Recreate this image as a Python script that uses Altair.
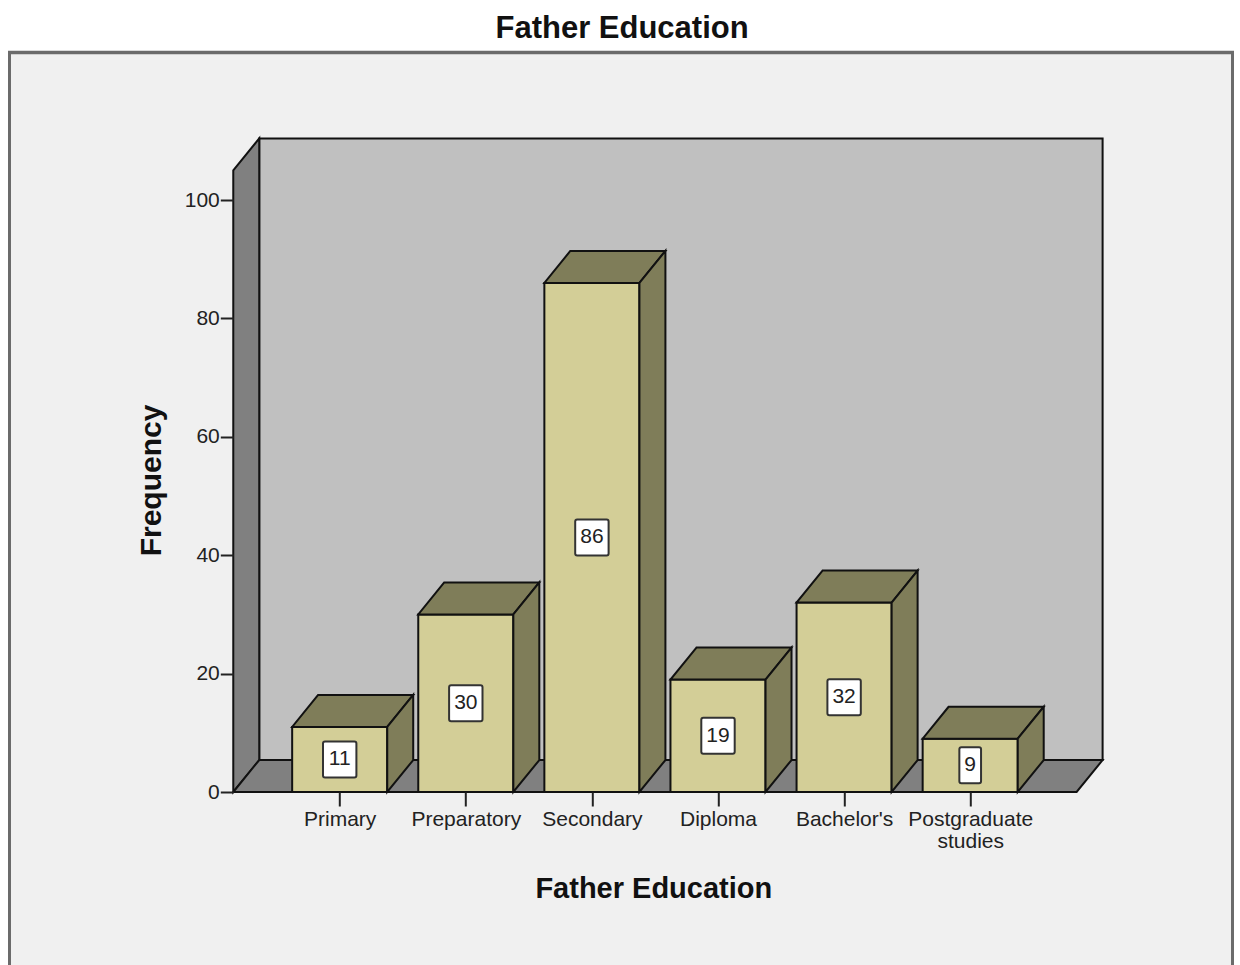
import json
import altair as alt
import pandas as pd

# ---- data -------------------------------------------------------------
categories = ["Primary", "Preparatory", "Secondary", "Diploma", "Bachelor's", "Postgraduate studies"]
frequencies = [11, 30, 86, 19, 32, 9]
x_tick_labels = [["Primary"], ["Preparatory"], ["Secondary"], ["Diploma"], ["Bachelor's"], ["Postgraduate", "studies"]]
y_ticks = [0, 20, 40, 60, 80, 100]

# ---- 3-D box geometry (in data units) ---------------------------------
WALL_TOP = 105          # front top edge of the side wall, in frequency units
DEPTH_X = 0.206         # receding depth, in category steps
DEPTH_Y = 5.4           # receding depth, in frequency units
HALF = 0.377            # half bar width, in category steps
FLOOR_L, FLOOR_R = -0.844, 5.844
PX_X = 1 / 126.1        # category steps per pixel
PX_Y = 1 / 5.92         # frequency units per pixel

# ---- style ------------------------------------------------------------
FRONT = "#d3ce97"
SHADE = "#7f7d59"
WALL = "#808080"
BACK = "#c0c0c0"
BG = "#f0f0f0"
EDGE = "#111111"
INK = "#222222"
FRAME = "#6b6b6b"
FONT = "Liberation Sans"

# plot area: left edge on the y axis, bottom edge on the x axis
W, H = 1000.7, 741
FRAME_L, FRAME_R, FRAME_T, FRAME_B = -225.3, 1000.7, 0, 914

xs = alt.Scale(domain=[-1, 6], range=[-19.7, 863], nice=False, zero=False)
ys = alt.Scale(domain=[0, 100], range=[741, 149], nice=False, zero=False)

idx = list(range(len(categories)))
one = pd.DataFrame({"k": [0]})

# grey panel behind everything
panel = alt.Chart(one).mark_rect(fill=BG).encode(
    x=alt.value(FRAME_L), x2=alt.value(FRAME_R), y=alt.value(FRAME_T), y2=alt.value(FRAME_B))

# back wall
back_df = pd.DataFrame({"x": [FLOOR_L + DEPTH_X], "x2": [FLOOR_R + DEPTH_X],
                        "y": [DEPTH_Y], "y2": [WALL_TOP + DEPTH_Y]})
back = alt.Chart(back_df).mark_rect(fill=BACK, stroke=EDGE, strokeWidth=2).encode(
    x=alt.X("x:Q", scale=xs, axis=None), x2="x2:Q",
    y=alt.Y("y:Q", scale=ys, axis=None), y2="y2:Q")

# left side wall
wall_df = pd.DataFrame({"x": [FLOOR_L, FLOOR_L + DEPTH_X],
                        "top": [WALL_TOP, WALL_TOP + DEPTH_Y],
                        "bot": [0, DEPTH_Y]})
wall = alt.Chart(wall_df).mark_area(fill=WALL, stroke=EDGE, strokeWidth=2).encode(
    x=alt.X("x:Q", scale=xs, axis=None),
    y=alt.Y("top:Q", scale=ys, axis=None, stack=None), y2="bot:Q")

# floor
floor_df = pd.DataFrame({"y": [0, DEPTH_Y],
                         "xl": [FLOOR_L, FLOOR_L + DEPTH_X],
                         "xr": [FLOOR_R, FLOOR_R + DEPTH_X]})
floor = alt.Chart(floor_df).mark_area(orient="horizontal", fill=WALL, stroke=EDGE, strokeWidth=2).encode(
    y=alt.Y("y:Q", scale=ys, axis=None),
    x=alt.X("xl:Q", scale=xs, axis=None, stack=None), x2="xr:Q")

# bar fronts
bars_df = pd.DataFrame({"cat": categories, "i": idx, "v": frequencies})
bars_df["xl"] = bars_df["i"] - HALF
bars_df["xr"] = bars_df["i"] + HALF
bars_df["zero"] = 0

# top and side faces of each bar
top_rows, side_rows = [], []
for c, i, v in zip(categories, idx, frequencies):
    for t in (0, 1):
        top_rows.append({"cat": c, "y": v + t * DEPTH_Y,
                         "xl": i - HALF + t * DEPTH_X, "xr": i + HALF + t * DEPTH_X})
        side_rows.append({"cat": c, "x": i + HALF + t * DEPTH_X,
                          "top": v + t * DEPTH_Y, "bot": t * DEPTH_Y})
top_df = pd.DataFrame(top_rows)
side_df = pd.DataFrame(side_rows)

tops = alt.Chart(top_df).mark_area(orient="horizontal", fill=SHADE, stroke=EDGE, strokeWidth=2).encode(
    y=alt.Y("y:Q", scale=ys, axis=None),
    x=alt.X("xl:Q", scale=xs, axis=None, stack=None), x2="xr:Q",
    detail="cat:N")

sides = alt.Chart(side_df).mark_area(fill=SHADE, stroke=EDGE, strokeWidth=2).encode(
    x=alt.X("x:Q", scale=xs, axis=None),
    y=alt.Y("top:Q", scale=ys, axis=None, stack=None), y2="bot:Q",
    detail="cat:N")

label_expr = json.dumps(x_tick_labels) + "[round(datum.value)]"

fronts = alt.Chart(bars_df).mark_rect(fill=FRONT, stroke=EDGE, strokeWidth=2).encode(
    x=alt.X("xl:Q", scale=xs,
            axis=alt.Axis(values=idx, labelExpr=label_expr, domain=False, grid=False,
                          tickSize=14, tickWidth=2, tickColor=INK, zindex=2,
                          labelFont=FONT, labelFontSize=21, labelColor=INK,
                          labelPadding=2, labelLineHeight=22, labelBaseline="top",
                          labelFlush=False, labelOverlap=False,
                          title="Father Education", titleFont=FONT, titleFontSize=29,
                          titleFontWeight="bold", titleColor=EDGE,
                          titleX=420, titleY=96, titleAlign="center", titleBaseline="middle")),
    x2="xr:Q",
    y=alt.Y("zero:Q", scale=ys,
            axis=alt.Axis(values=y_ticks, domain=False, grid=False,
                          tickSize=13, tickWidth=2, tickColor=INK, zindex=2,
                          labelFont=FONT, labelFontSize=21, labelColor=INK,
                          labelPadding=1,
                          title="Frequency", titleFont=FONT, titleFontSize=30,
                          titleFontWeight="bold", titleColor=EDGE, titleAngle=270,
                          titleX=-82, titleY=429, titleAlign="center", titleBaseline="middle")),
    y2="v:Q")

# value labels in white boxes
box_df = bars_df[["i", "v"]].copy()
box_df["mid"] = box_df["v"] / 2
box_df["hw"] = (box_df["v"].astype(str).str.len() * 11.7 + 10) / 2 * PX_X
box_df["hh"] = 18 * PX_Y
box_df["bx1"] = box_df["i"] - box_df["hw"]
box_df["bx2"] = box_df["i"] + box_df["hw"]
box_df["by1"] = box_df["mid"] - box_df["hh"]
box_df["by2"] = box_df["mid"] + box_df["hh"]

boxes = alt.Chart(box_df).mark_rect(fill="white", stroke="#333333", strokeWidth=2, cornerRadius=2).encode(
    x=alt.X("bx1:Q", scale=xs, axis=None), x2="bx2:Q",
    y=alt.Y("by1:Q", scale=ys, axis=None), y2="by2:Q")

values = alt.Chart(box_df).mark_text(font=FONT, fontSize=21, color=INK, baseline="middle", align="center").encode(
    x=alt.X("i:Q", scale=xs, axis=None),
    y=alt.Y("mid:Q", scale=ys, axis=None),
    text="v:Q")

# outer frame (left, top, right edges)
frame_l = alt.Chart(one).mark_rule(color=FRAME, strokeWidth=3).encode(
    x=alt.value(FRAME_L + 1.5), y=alt.value(FRAME_T), y2=alt.value(FRAME_B))
frame_t = alt.Chart(one).mark_rule(color=FRAME, strokeWidth=3.5).encode(
    x=alt.value(FRAME_L), x2=alt.value(FRAME_R), y=alt.value(FRAME_T + 1.5))
frame_r = alt.Chart(one).mark_rule(color=FRAME, strokeWidth=3).encode(
    x=alt.value(FRAME_R - 1.5), y=alt.value(FRAME_T), y2=alt.value(FRAME_B))

chart = alt.layer(
    panel, back, wall, floor, fronts, tops, sides, boxes, values, frame_l, frame_t, frame_r
).resolve_axis(
    x="independent", y="independent"
).properties(
    width=W, height=H,
    padding={"left": 233.3, "top": 51, "right": 6, "bottom": 173},
    autosize=alt.AutoSizeParams(type="none"),
    background="white",
    title=alt.TitleParams("Father Education", font=FONT, fontSize=31, fontWeight="bold",
                          color=EDGE, anchor="middle", offset=5, dx=-111.6),
).configure_view(stroke=None)

chart.save("out.html", embed_options={"renderer": "svg", "actions": False})
